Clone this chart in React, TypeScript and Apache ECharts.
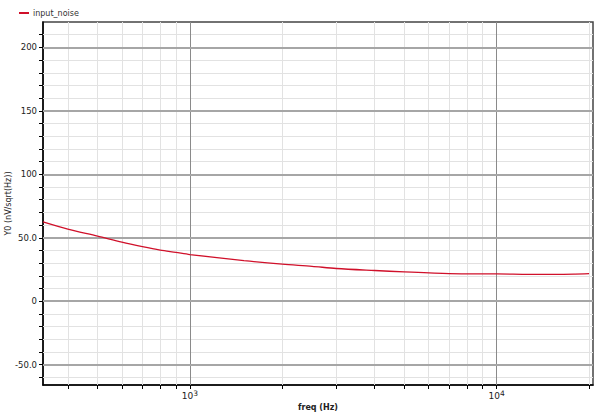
import React, { useEffect, useRef } from "react";
import * as echarts from "echarts";

const freqs = [332, 400, 500, 600, 700, 800, 900, 1000, 1500, 2000, 2500, 3000, 4000, 5000, 7000, 10000, 14000, 18000, 20000];
const noise = [62.5, 56.8, 51.3, 46.5, 43.0, 40.3, 38.5, 36.8, 32.0, 29.2, 27.5, 25.8, 24.2, 23.1, 21.8, 21.5, 21.1, 21.4, 21.7];

const xMajor = [1000, 10000];
const xMinor = [400, 500, 600, 700, 800, 900, 2000, 3000, 4000, 5000, 6000, 7000, 8000, 9000, 20000];
const yMajor = [-50, 0, 50, 100, 150, 200];
const yMinor = [-60, -40, -30, -20, -10, 10, 20, 30, 40, 60, 70, 80, 90, 110, 120, 130, 140, 160, 170, 180, 190, 210];
const yLabelText: Record<string, string> = { "-50": "-50.0", "0": "0", "50": "50.0", "100": "100", "150": "150", "200": "200" };

export default function App() {
  const ref = useRef<HTMLDivElement>(null);
  useEffect(() => {
    if (!ref.current) return;
    const chart = echarts.init(ref.current, null, { renderer: "svg" });
    const font = "DejaVu Sans";
    const gridLines: any[] = [];
    xMinor.forEach((v) => gridLines.push({ xAxis: v, lineStyle: { color: "#e2e2e2", width: 1, type: "solid" } }));
    yMinor.forEach((v) => gridLines.push({ yAxis: v, lineStyle: { color: "#e2e2e2", width: 1, type: "solid" } }));
    xMajor.forEach((v) => gridLines.push({ xAxis: v, lineStyle: { color: "#8a8a8a", width: 1, type: "solid" } }));
    yMajor.forEach((v) => gridLines.push({ yAxis: v, lineStyle: { color: "#a6a6a6", width: 2, type: "solid" } }));

    chart.setOption({
      animation: false,
      backgroundColor: "#ffffff",
      legend: {
        left: 14,
        top: 4,
        icon: "rect",
        itemWidth: 10,
        itemHeight: 2,
        itemGap: 5,
        data: ["input_noise"],
        textStyle: { fontFamily: font, fontSize: 8, color: "#333", padding: [0, 0, 0, -1] },
      },
      grid: {
        left: 43,
        right: 7,
        top: 22,
        bottom: 33,
        containLabel: false,
        outerBoundsMode: "none",
        show: true,
        borderColor: "#444",
        borderWidth: 1.5,
        backgroundColor: "transparent",
      },
      xAxis: {
        type: "log",
        logBase: 10,
        min: 332,
        max: 20600,
        name: "freq (Hz)",
        nameLocation: "middle",
        nameGap: 18,
        nameMoveOverlap: false,
        nameTextStyle: { fontFamily: font, fontSize: 8, color: "#222", fontWeight: "bold" },
        axisLine: { show: true, onZero: false, lineStyle: { color: "#000", width: 1.5 } },
        axisTick: { show: true, length: 4, customValues: [...xMinor, ...xMajor], lineStyle: { color: "#000" } },
        axisLabel: {
          customValues: xMajor,
          margin: 4,
          formatter: (v: number) => "{b|10}{s|" + Math.round(Math.log10(v)) + "}",
          rich: {
            b: { fontFamily: font, fontSize: 9, color: "#222", lineHeight: 11, verticalAlign: "bottom" },
            s: { fontFamily: font, fontSize: 7.5, color: "#222", lineHeight: 11, verticalAlign: "top" },
          },
        },
        splitLine: { show: false },
      },
      yAxis: {
        type: "value",
        min: -66,
        max: 220,
        name: "Y0 (nV/sqrt(Hz))",
        nameLocation: "middle",
        nameGap: 31,
        nameMoveOverlap: false,
        nameTextStyle: { fontFamily: font, fontSize: 8, color: "#222" },
        axisLine: { show: true, onZero: false, lineStyle: { color: "#000", width: 1.5 } },
        axisTick: { show: true, length: 4, customValues: [...yMinor, ...yMajor], lineStyle: { color: "#000" } },
        axisLabel: {
          customValues: yMajor,
          margin: 6,
          fontFamily: font,
          fontSize: 8.5,
          color: "#222",
          formatter: (v: number) => yLabelText[String(v)] ?? String(v),
        },
        splitLine: { show: false },
      },
      series: [
        {
          name: "grid",
          type: "line",
          data: [],
          z: 1,
          silent: true,
          markLine: {
            silent: true,
            symbol: ["none", "none"],
            label: { show: false },
            animation: false,
            data: gridLines,
          },
        },
        {
          name: "input_noise",
          type: "line",
          z: 5,
          data: freqs.map((f, i) => [f, noise[i]]),
          showSymbol: false,
          smooth: 0.3,
          lineStyle: { color: "#d0102a", width: 1.3 },
          itemStyle: { color: "#d0102a" },
        },
      ],
    });
    return () => chart.dispose();
  }, []);
  return <div ref={ref} style={{ width: 600, height: 418, position: "absolute", left: 0, top: 0 }} />;
}
